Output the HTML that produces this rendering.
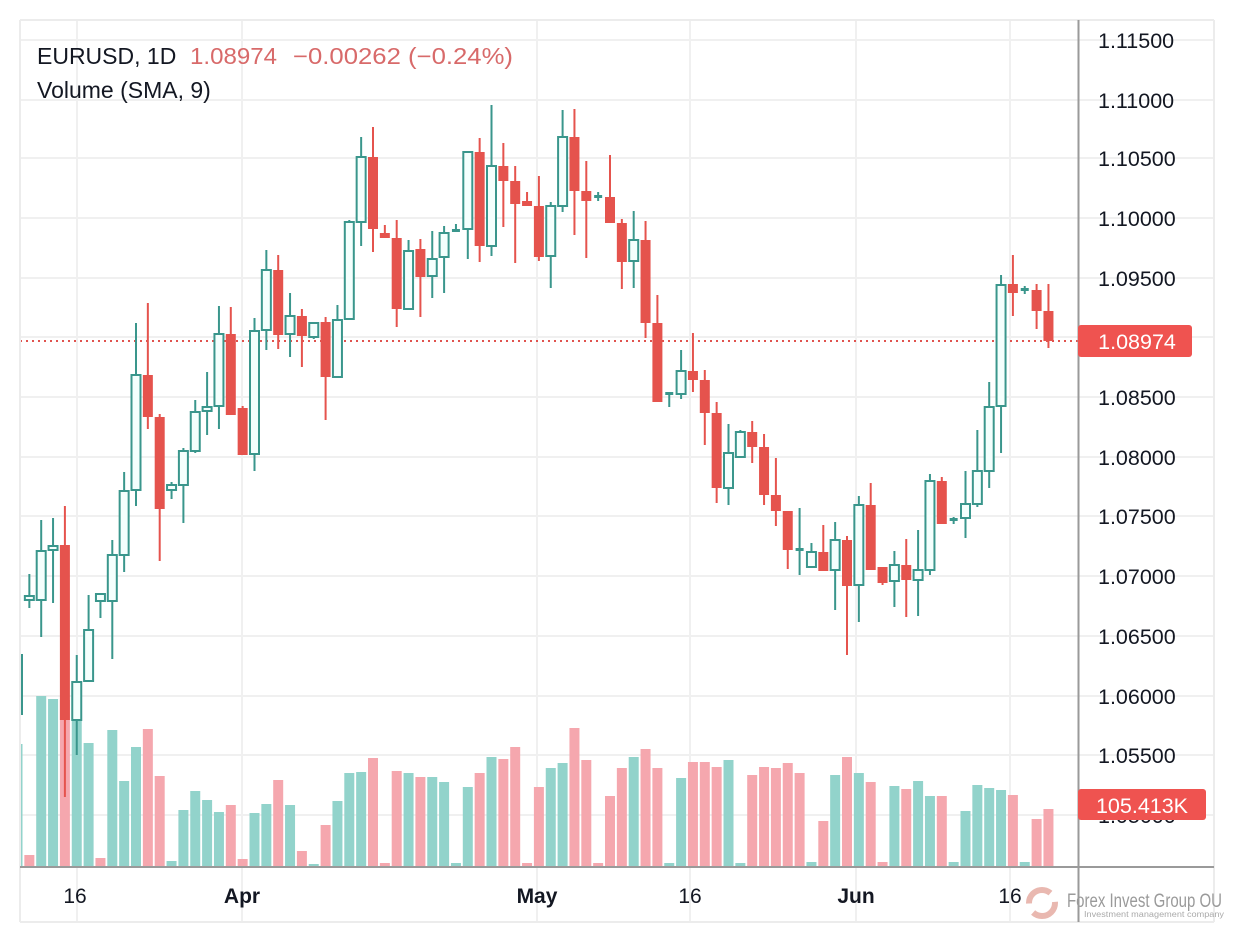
<!DOCTYPE html>
<html><head><meta charset="utf-8"><style>
html,body{margin:0;padding:0;background:#fff;}
svg{display:block;font-family:"Liberation Sans",sans-serif;}
</style></head><body>
<svg id="s" width="1234" height="938" viewBox="0 0 1234 938" xmlns="http://www.w3.org/2000/svg">
<rect width="1234" height="938" fill="#fff"/>
<g id="grid" stroke="#f0f0f0" stroke-width="2"></g>
<g id="vol"></g>
<line x1="20" y1="341" x2="1078" y2="341" stroke="#e0534e" stroke-width="2" stroke-dasharray="2,4"/>
<g id="cdl"></g>
<rect x="0" y="0" width="20" height="938" fill="#fff"/>
<line x1="20" y1="20" x2="1214" y2="20" stroke="#ececec" stroke-width="2"/>
<line x1="20" y1="20" x2="20" y2="922" stroke="#ececec" stroke-width="2"/>
<line x1="1214" y1="20" x2="1214" y2="922" stroke="#ececec" stroke-width="2"/>
<line x1="20" y1="922" x2="1214" y2="922" stroke="#ececec" stroke-width="2"/>
<line x1="1078.5" y1="20" x2="1078.5" y2="922" stroke="#9a9a9a" stroke-width="2"/>
<line x1="20" y1="867" x2="1214" y2="867" stroke="#9a9a9a" stroke-width="2"/>
<g id="ylab" font-size="21.5" fill="#131722"></g>
<text x="37" y="64" font-size="23" fill="#131722">EURUSD, 1D</text>
<text x="190" y="64" font-size="23" fill="#d86a6a" textLength="87" lengthAdjust="spacingAndGlyphs">1.08974</text>
<text x="293" y="64" font-size="23" fill="#d86a6a" textLength="220" lengthAdjust="spacingAndGlyphs">−0.00262 (−0.24%)</text>
<text x="37" y="98" font-size="23" fill="#131722">Volume (SMA, 9)</text>
<g font-size="21" fill="#131722" text-anchor="middle">
<text x="75" y="903">16</text>
<text x="242" y="903" font-weight="bold">Apr</text>
<text x="537" y="903" font-weight="bold">May</text>
<text x="690" y="903">16</text>
<text x="856" y="903" font-weight="bold">Jun</text>
<text x="1010" y="903">16</text>
</g>
<rect x="1078" y="325" width="114" height="32" rx="3" fill="#ef5350"/>
<text x="1137" y="349" font-size="21.5" fill="#fff" text-anchor="middle">1.08974</text>
<rect x="1078" y="789" width="128" height="31" rx="3" fill="#ef5350"/>
<text x="1142" y="813" font-size="21.5" fill="#fff" text-anchor="middle">105.413K</text>
<g>
<circle cx="1042" cy="903" r="13" fill="none" stroke="#e9b8b0" stroke-width="6" stroke-dasharray="30,10"/>
<text x="1067" y="907" font-size="19" fill="#9a9a9a" textLength="155" lengthAdjust="spacingAndGlyphs">Forex Invest Group OU</text>
<text x="1084" y="917" font-size="8" fill="#aaa" textLength="140" lengthAdjust="spacingAndGlyphs">Investment management company</text>
</g>
</svg>
<script>
var NS="http://www.w3.org/2000/svg";
function el(p,t,a){var e=document.createElementNS(NS,t);for(var k in a)e.setAttribute(k,a[k]);document.getElementById(p).appendChild(e);return e;}
var py=[40,100,158,218,278,337,397,457,516,576,636,696,755,815];
var lab=["1.11500","1.11000","1.10500","1.10000","1.09500","1.09000","1.08500","1.08000","1.07500","1.07000","1.06500","1.06000","1.05500","1.05000"];
py.forEach(function(y,i){el("grid","line",{x1:20,y1:y,x2:1214,y2:y});
 if(i!=5){var t=el("ylab","text",{x:1098,y:y+8});t.textContent=lab[i];}});
[77,242,537,690,856,1010].forEach(function(x){el("grid","line",{x1:x,y1:20,x2:x,y2:922});});
function X(i){return 17.5+11.85*i;}
var C=[
[0,'g',655,714,655,714],[1,'g',596,600,574,608],[2,'g',551,600,520,637],[3,'g',546,550,518,603],
[4,'r',545,720,506,797],[5,'g',682,720,655,755],[6,'g',630,681,595,681],[7,'g',594,601,594,618],
[8,'g',555,601,540,659],[9,'g',491,555,472,572],[10,'g',375,490,323,506],[11,'r',375,417,303,429],
[12,'r',417,509,414,561],[13,'g',485,490,482,499],[14,'g',451,485,448,523],[15,'g',412,451,400,453],
[16,'g',407,411,372,435],[17,'g',334,406,306,429],[18,'r',334,415,307,415],[19,'r',408,455,406,455],
[20,'g',331,454,318,471],[21,'g',270,330,250,350],[22,'r',270,335,255,349],[23,'g',316,334,293,357],
[24,'r',316,336,309,367],[25,'g',323,337,323,339],[26,'r',322,377,317,420],[27,'g',320,377,305,377],
[28,'g',222,319,220,319],[29,'g',157,222,137,246],[30,'r',157,229,127,252],[31,'r',233,238,225,238],
[32,'r',238,309,220,327],[33,'g',251,309,240,309],[34,'r',249,277,239,317],[35,'g',259,276,231,298],
[36,'g',233,257,226,293],[37,'g',230,232,224,232],[38,'g',152,229,152,259],[39,'r',152,246,138,262],
[40,'g',166,246,105,256],[41,'r',166,181,143,227],[42,'r',181,204,166,263],[43,'r',201,206,192,206],
[44,'r',206,257,176,261],[45,'g',206,256,202,288],[46,'g',137,206,110,212],[47,'r',137,191,109,235],
[48,'r',191,201,161,258],[49,'g',196,198,192,201],[50,'r',197,223,155,223],[51,'r',223,262,219,289],
[52,'g',240,261,211,288],[53,'r',240,323,221,338],[54,'r',323,402,295,402],[55,'g',393,395,392,407],
[56,'g',371,394,350,399],[57,'r',371,380,333,392],[58,'r',380,413,370,445],[59,'r',413,488,402,503],
[60,'g',453,488,424,505],[61,'g',432,457,430,457],[62,'r',432,447,421,463],[63,'r',447,495,434,505],
[64,'r',495,511,458,526],[65,'r',511,550,511,569],[66,'g',549,551,508,575],[67,'g',552,567,543,567],
[68,'r',552,571,525,571],[69,'g',540,570,522,610],[70,'r',540,586,536,655],[71,'g',505,585,496,622],
[72,'r',505,570,483,570],[73,'r',567,583,567,585],[74,'g',565,581,551,607],[75,'r',565,580,539,617],
[76,'g',570,580,530,616],[77,'g',481,570,474,575],[78,'r',481,524,477,524],[79,'g',519,521,517,524],
[80,'g',504,518,471,538],[81,'g',471,504,430,507],[82,'g',407,471,382,488],[83,'g',285,406,275,453],
[84,'r',284,293,255,316],[85,'g',289,291,286,294],[86,'r',290,311,284,329],[87,'r',311,341,284,348]];
var G="#3a968c",R="#e5534d";
C.forEach(function(c){var x=X(c[0]),col=c[1]=='g'?G:R;
 el("cdl","line",{x1:x,y1:c[4],x2:x,y2:c[5],stroke:col,"stroke-width":2});
 var h=c[3]-c[2];
 if(c[1]=='g'){ if(h<4) el("cdl","rect",{x:x-4,y:c[2]-1,width:8,height:3,fill:col});
   else el("cdl","rect",{x:x-4.5,y:c[2],width:9,height:h,fill:"#f4fffd",stroke:col,"stroke-width":2});}
 else el("cdl","rect",{x:x-5,y:c[2],width:10,height:Math.max(h,3),fill:col});
});
var V=[[0,'g',744],[1,'r',855],[2,'g',696],[3,'g',699],[4,'r',700],[5,'g',701],[6,'g',743],[7,'r',858],
[8,'g',730],[9,'g',781],[10,'g',747],[11,'r',729],[12,'r',776],[13,'g',861],[14,'g',810],[15,'g',791],
[16,'g',800],[17,'g',812],[18,'r',805],[19,'r',859],[20,'g',813],[21,'g',804],[22,'r',780],[23,'g',805],
[24,'r',851],[25,'g',864],[26,'r',825],[27,'g',801],[28,'g',773],[29,'g',772],[30,'r',758],[31,'r',863],
[32,'r',771],[33,'g',773],[34,'r',777],[35,'g',777],[36,'g',782],[37,'g',863],[38,'g',787],[39,'r',773],
[40,'g',757],[41,'r',759],[42,'r',747],[43,'r',863],[44,'r',787],[45,'g',768],[46,'g',763],[47,'r',728],
[48,'r',760],[49,'r',863],[50,'r',796],[51,'r',768],[52,'g',757],[53,'r',749],[54,'r',768],[55,'g',863],
[56,'g',778],[57,'r',762],[58,'r',762],[59,'r',767],[60,'g',760],[61,'g',863],[62,'r',775],[63,'r',767],
[64,'r',768],[65,'r',763],[66,'r',773],[67,'g',862],[68,'r',821],[69,'g',775],[70,'r',757],[71,'g',773],
[72,'r',782],[73,'r',862],[74,'g',786],[75,'r',789],[76,'g',781],[77,'g',796],[78,'r',796],[79,'g',862],
[80,'g',811],[81,'g',785],[82,'g',788],[83,'g',790],[84,'r',795],[85,'g',862],[86,'r',819],[87,'r',809]];
V.forEach(function(v){var x=X(v[0]);el("vol","rect",{x:x-5,y:v[2],width:10,height:866-v[2],fill:v[1]=='g'?"#92d3cb":"#f5a7ae"});});
</script>
</body></html>
